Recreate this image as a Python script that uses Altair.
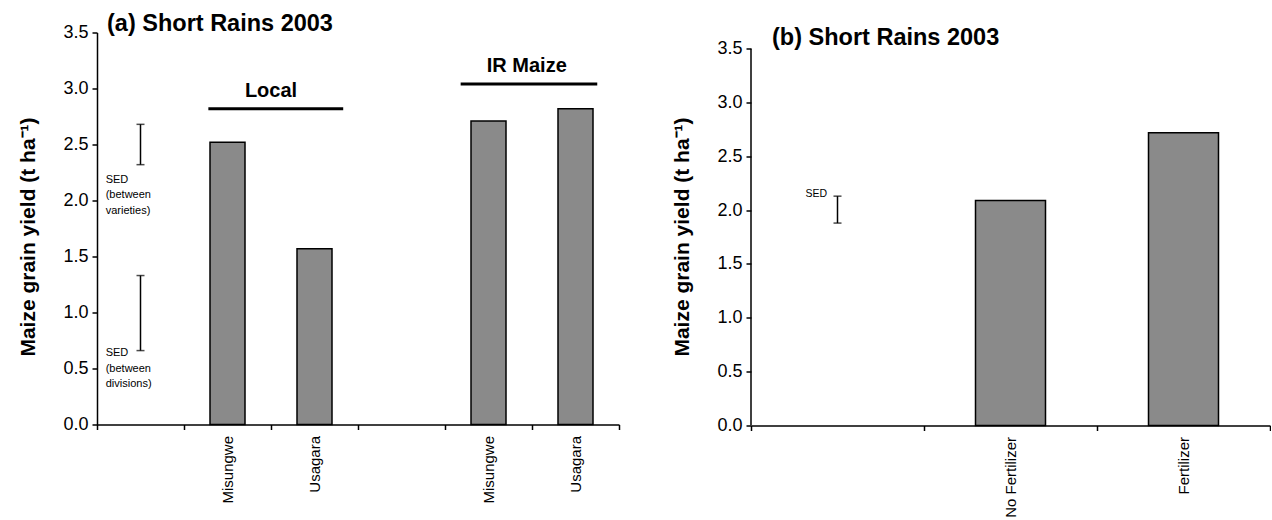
import altair as alt
import pandas as pd

FONT = "Liberation Sans"
ZW = "\u200b"  # zero-width space keeps repeated variety names distinct on the axis

# Panel (a): maize types and varieties
left_types = ["Local", "Local", "IR Maize", "IR Maize"]
left_varieties = ["Misungwe", "Usagara", "Misungwe", "Usagara"]
left_yield = [2.52, 1.57, 2.71, 2.82]

# SED bars of panel (a)
left_sed_text = ["SED\n(between\nvarieties)", "SED\n(between\ndivisions)"]
left_sed_low = [2.32, 0.66]
left_sed_high = [2.68, 1.33]
left_sed_text_y = [2.24, 0.69]

# Group headers of panel (a), positions in slot units (one slot per category)
group_names = ["Local", "IR Maize"]
group_line_x0 = [1.28, 4.18]
group_line_x1 = [2.83, 5.75]
group_text_x = [2.0, 4.94]
group_line_y = [2.82, 3.04]
group_text_y = [2.98, 3.20]

# Panel (b): fertilizer treatments
right_treat = ["No Fertilizer", "Fertilizer"]
right_yield = [2.09, 2.72]
right_sed_low = [1.88]
right_sed_high = [2.13]
right_sed_text_y = [2.15]

y_ticks = [0.0, 0.5, 1.0, 1.5, 2.0, 2.5, 3.0, 3.5]
y_title = "Maize grain yield (t ha\u207b\u00b9)"

# slot names: blank slots hold the SED bars / the gap between groups
left_slots = [ZW, left_varieties[0], left_varieties[1], ZW * 2,
              left_varieties[2] + ZW, left_varieties[3] + ZW]
left_bar_slots = left_slots[1:3] + left_slots[4:6]
right_slots = [ZW] + right_treat


def x_enc(field, slots, band=None):
    extra = {} if band is None else {"bandPosition": band}
    return alt.X(
        f"{field}:N",
        scale=alt.Scale(domain=slots, paddingInner=0, paddingOuter=0),
        axis=alt.Axis(
            title=None, labelAngle=-90, labelFontSize=15,
            labelPadding=6, tickBand="extent", tickSize=5, tickWidth=1.5,
            domainWidth=1.5, tickColor="black", domainColor="black",
            labelColor="black", labelFont=FONT,
        ),
        **extra,
    )


def y_enc(field, top, show_domain=True):
    return alt.Y(
        f"{field}:Q",
        scale=alt.Scale(domain=[0, top], nice=False, zero=True),
        axis=alt.Axis(
            title=y_title, values=y_ticks, format=".1f", labelFontSize=18,
            labelPadding=4, tickSize=5, tickWidth=1.5, domain=show_domain,
            domainWidth=1.5, domainColor="black", tickColor="black",
            labelColor="black", labelFont=FONT, titleFont=FONT,
            titleFontSize=21, titleFontWeight="bold", titleColor="black",
            titlePadding=24, titleY=204, grid=False,
        ),
    )


def cap(df, field, slots, top, show_domain=True):
    return alt.Chart(df).mark_tick(color="black", size=8, thickness=1.5).encode(
        x=x_enc("slot", slots), y=y_enc(field, top, show_domain))


BAR_FILL = "#8a8a8a"

# ---------------- panel (a) ----------------
bars_a = pd.DataFrame({"slot": left_bar_slots, "type": left_types, "yield": left_yield})
sed_a = pd.DataFrame({
    "slot": [left_slots[0]] * len(left_sed_low),
    "lo": left_sed_low, "hi": left_sed_high,
    "label": left_sed_text, "ty": left_sed_text_y,
})

bar_layer_a = alt.Chart(bars_a).mark_bar(
    size=35, fill=BAR_FILL, stroke="black", strokeWidth=1.5
).encode(x=x_enc("slot", left_slots), y=y_enc("yield", 3.5))
sed_rule_a = alt.Chart(sed_a).mark_rule(color="black", strokeWidth=1.5).encode(
    x=x_enc("slot", left_slots), y=y_enc("lo", 3.5), y2="hi:Q")
sed_text_a = alt.Chart(sed_a).mark_text(
    align="left", baseline="top", fontSize=11, lineHeight=15.5,
    lineBreak="\n", font=FONT, color="black",
).encode(x=x_enc("slot", left_slots, band=0.1), y=y_enc("ty", 3.5), text="label:N")

title_a = alt.Chart(pd.DataFrame({"t": ["(a) Short Rains 2003"]})).mark_text(
    align="left", baseline="middle", fontSize=23.5, fontWeight="bold", font=FONT, color="black",
).encode(x=alt.value(10), y=alt.value(-9), text="t:N")

band_part_a = alt.layer(
    bar_layer_a, sed_rule_a, cap(sed_a, "lo", left_slots, 3.5),
    cap(sed_a, "hi", left_slots, 3.5), sed_text_a, title_a,
)

groups = pd.DataFrame({
    "name": group_names, "x0": group_line_x0, "x1": group_line_x1,
    "tx": group_text_x, "ly": group_line_y, "ty": group_text_y,
})
gx = alt.Scale(domain=[0, len(left_slots)], nice=False, zero=False)
group_lines = alt.Chart(groups).mark_rule(color="black", strokeWidth=3).encode(
    x=alt.X("x0:Q", scale=gx, axis=None), x2="x1:Q", y=y_enc("ly", 3.5))
group_text = alt.Chart(groups).mark_text(
    fontSize=20, fontWeight="bold", font=FONT, color="black", baseline="middle",
).encode(x=alt.X("tx:Q", scale=gx, axis=None), y=y_enc("ty", 3.5), text="name:N")

panel_a = alt.layer(band_part_a, group_lines + group_text).resolve_scale(
    x="independent").properties(width=522, height=392)

# ---------------- panel (b) ----------------
RIGHT_TOP = 3.65
bars_b = pd.DataFrame({"slot": right_treat, "yield": right_yield})
sed_b = pd.DataFrame({"slot": [right_slots[0]], "lo": right_sed_low, "hi": right_sed_high,
                      "label": ["SED"], "ty": right_sed_text_y})
axis_line_b = pd.DataFrame({"a": [0.0], "b": [3.5]})

bar_layer_b = alt.Chart(bars_b).mark_bar(
    size=70, fill=BAR_FILL, stroke="black", strokeWidth=1.5
).encode(x=x_enc("slot", right_slots), y=y_enc("yield", RIGHT_TOP, False))
y_axis_line_b = alt.Chart(axis_line_b).mark_rule(color="black", strokeWidth=1.5).encode(
    x=alt.value(0), y=y_enc("a", RIGHT_TOP, False), y2="b:Q")
sed_rule_b = alt.Chart(sed_b).mark_rule(color="black", strokeWidth=1.5).encode(
    x=x_enc("slot", right_slots), y=y_enc("lo", RIGHT_TOP, False), y2="hi:Q")
sed_text_b = alt.Chart(sed_b).mark_text(
    align="right", baseline="middle", fontSize=10.5, font=FONT, color="black",
).encode(x=x_enc("slot", right_slots, band=0.44),
         y=y_enc("ty", RIGHT_TOP, False), text="label:N")

title_b = alt.Chart(pd.DataFrame({"t": ["(b) Short Rains 2003"]})).mark_text(
    align="left", baseline="middle", fontSize=23.5, fontWeight="bold", font=FONT, color="black",
).encode(x=alt.value(21), y=alt.value(5.5), text="t:N")

panel_b = alt.layer(
    bar_layer_b, y_axis_line_b, sed_rule_b,
    cap(sed_b, "lo", right_slots, RIGHT_TOP, False),
    cap(sed_b, "hi", right_slots, RIGHT_TOP, False),
    sed_text_b, title_b,
).properties(width=519, height=393)

chart = alt.hconcat(panel_a, panel_b, spacing=132, bounds="flush").properties(
    padding={"left": 17, "top": 11.5, "right": 0, "bottom": 0},
    background="white",
).configure_view(stroke=None)

chart.save("out.html", embed_options={"renderer": "svg", "actions": False})
